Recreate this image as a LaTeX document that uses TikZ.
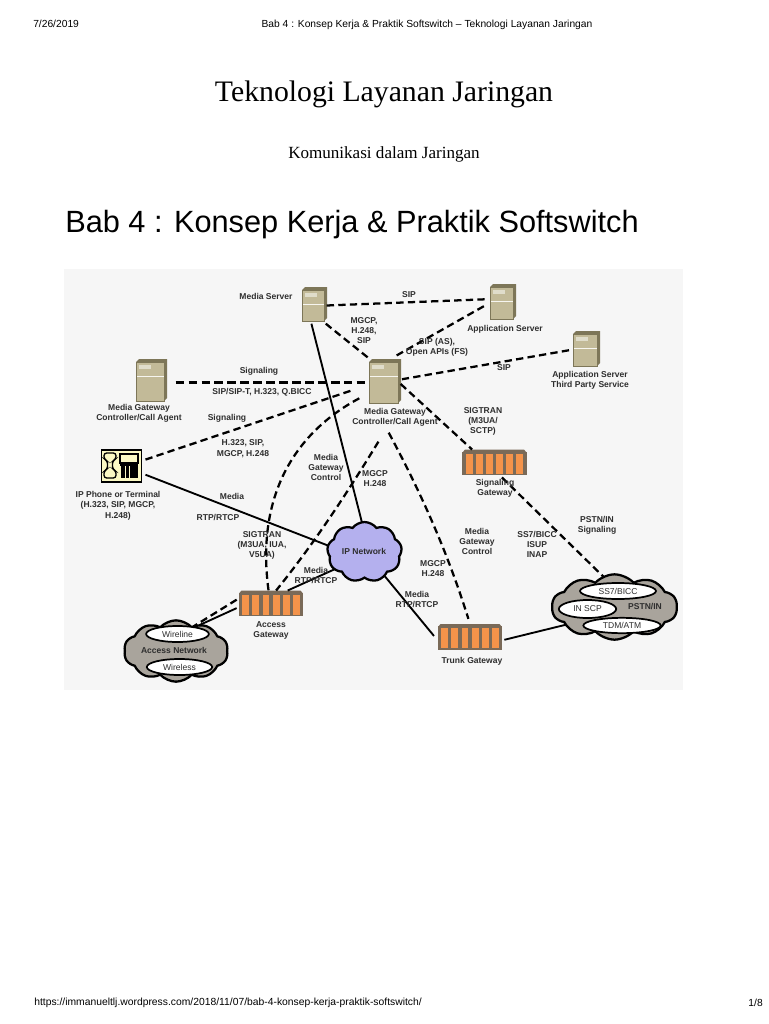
\documentclass[tikz,border=0pt]{standalone}
\usepackage{fontspec}
\setmainfont{Liberation Sans}
\newfontfamily\titlefont{Liberation Serif}
\usepackage{xcolor}
\usetikzlibrary{arrows.meta,positioning,calc,shapes.geometric,shapes.symbols}
\definecolor{panelbg}{HTML}{F6F6F6}
\definecolor{srvfront}{HTML}{C2BA98}
\definecolor{srvside}{HTML}{7D7658}
\definecolor{gwframe}{HTML}{7A6A58}
\definecolor{gworange}{HTML}{F4934A}
\definecolor{ipcloud}{HTML}{B4B0EE}
\definecolor{netcloud}{HTML}{A9A49C}
\definecolor{phonebg}{HTML}{FBF9C4}
\definecolor{labelink}{HTML}{2E2E2E}

% server box: name, x, y, width, height
\newcommand{\serverbox}[5]{
  \fill[srvside] (#2-#4/2,#3-#5/2) -- ++(3,-3) -- ++(#4,0) -- ++(0,#5) -- ++(-3,3) -- cycle;
  \node[server, minimum width=#4*0.75pt, minimum height=#5*0.75pt] (#1) at (#2,#3) {};
}
% gateway box: name, x, y
\newcommand{\gatewaybox}[3]{
  \fill[gwframe] (#2-31.7,#3-11.3) -- ++(2,-2.5) -- ++(59.4,0) -- ++(2,2.5) -- cycle;
  \node[gateway] (#1) at (#2,#3) {};
}

\begin{document}
\begin{tikzpicture}[
  x=0.75pt, y=-0.75pt,
  server/.style={draw=srvside, line width=0.6pt, fill=srvfront, inner sep=0pt, outer sep=2pt,
    path picture={
      \draw[white!85!srvfront, line width=0.5pt] ([yshift=-11pt]path picture bounding box.north west) -- ([yshift=-11pt]path picture bounding box.north east);
      \fill[white!50!srvfront] ([xshift=2pt,yshift=-2pt]path picture bounding box.north west) rectangle ++(9pt,-3pt);
    }},
  gateway/.style={draw=gwframe, line width=0.9pt, fill=gwframe, inner sep=0pt, outer sep=2pt,
    minimum width=47.5pt, minimum height=17pt,
    path picture={
      \foreach \i in {0,...,5}
        \fill[gworange] ([xshift=2.2pt+\i*7.6pt,yshift=1pt]path picture bounding box.south west) rectangle ++(5.2pt,15pt);
    }},
  sigline/.style={dash pattern=on 5.5pt off 3.2pt, line width=1.7pt, black},
  trunkline/.style={dash pattern=on 6.5pt off 3.2pt, line width=2.2pt, black},
  medialine/.style={line width=1.4pt, black},
  lbl/.style={font=\fontsize{6.4}{7.6}\selectfont\bfseries, text=labelink, align=center, inner sep=0pt, yshift=-0.5pt},
  cloudnet/.style={cloud, cloud ignores aspect, draw=black, line width=1.7pt, inner sep=0pt, outer sep=0pt},
  oval/.style={ellipse, draw=black, line width=1.3pt, fill=white, inner sep=0pt, font=\fontsize{6.4}{7.6}\selectfont, text=labelink},
  page/.style={inner sep=0pt, text=black}
]
\useasboundingbox (0,0) rectangle (768,1024);
\fill[white] (0,0) rectangle (768,1024);

% page text
\node[page, font=\fontsize{7.7}{9}\selectfont, anchor=west] (date) at (33,24) {7/26/2019};
\node[page, font=\fontsize{7.7}{9}\selectfont] (head) at (427,24.5) {Bab 4 : Konsep Kerja \& Praktik Softswitch – Teknologi Layanan Jaringan};
\node[page, font=\titlefont\fontsize{22.3}{26}\selectfont] (title) at (384,94) {Teknologi Layanan Jaringan};
\node[page, font=\titlefont\fontsize{12.8}{15}\selectfont] (subtitle) at (384,154) {Komunikasi dalam Jaringan};
\node[page, font=\fontsize{23.05}{27}\selectfont, anchor=west] (bab) at (65,225) {Bab 4 : Konsep Kerja \& Praktik Softswitch};
\node[page, font=\fontsize{7.75}{9}\selectfont, anchor=west] (url) at (34,1003) {https://immanueltlj.wordpress.com/2018/11/07/bab-4-konsep-kerja-praktik-softswitch/};
\node[page, font=\fontsize{7.7}{9}\selectfont, anchor=east] (pageno) at (763,1003) {1/8};

\fill[panelbg] (64,269) rectangle (683,690);

% clouds
\node[cloudnet, cloud puffs=9, cloud puff arc=105, fill=ipcloud, minimum width=56pt, minimum height=45pt] (ipnet) at (364.5,552) {};
\node[cloudnet, cloud puffs=10, cloud puff arc=95, fill=netcloud, minimum width=78pt, minimum height=46pt] (accessnet) at (176,651) {};
\node[cloudnet, cloud puffs=10, cloud puff arc=95, fill=netcloud, minimum width=94pt, minimum height=49pt] (pstn) at (614.5,607) {};
\node[oval, minimum width=47pt, minimum height=12pt] (wireline) at (177.5,634) {Wireline};
\node[oval, minimum width=49pt, minimum height=12pt] (wireless) at (179.5,667) {Wireless};
\node[oval, minimum width=57pt, minimum height=12pt] (ss7) at (618,591) {SS7/BICC};
\node[oval, minimum width=43pt, minimum height=13.5pt] (inscp) at (587.5,609) {IN SCP};
\node[oval, minimum width=58pt, minimum height=11.5pt] (tdm) at (622,625.5) {TDM/ATM};

% servers
\serverbox{mediaserver}{313}{305.5}{22}{31}
\serverbox{mgcleft}{150}{381.5}{28}{39}
\serverbox{mgc}{383.5}{382.5}{29}{41}
\serverbox{appserver}{501.5}{303}{23}{32}
\serverbox{appthird}{585}{350}{24}{32}

% gateways
\gatewaybox{siggw}{494.5}{463.5}
\gatewaybox{accessgw}{271}{604.5}
\gatewaybox{trunkgw}{470}{638}

% phone
\node[draw=black, line width=1.4pt, fill=phonebg, minimum width=30pt, minimum height=23.5pt, inner sep=0pt, outer sep=3pt] (phone) at (121.5,466) {};
\draw[black, line width=1pt, rounded corners=2pt, fill=phonebg] (104,453) -- (116,453) -- (116,459) -- (112.5,461) -- (112.5,469) -- (116,471) -- (116,478) -- (104,478) -- (104,471) -- (107.5,469) -- (107.5,461) -- (104,459) -- cycle;
\draw[black, line width=0.9pt] (120,454) rectangle (138,463);
\foreach \kx in {123,127.5,132,136}
  \fill[black] (\kx-1.6,463) rectangle (\kx+1.6,478);
\fill[black] (120,463) rectangle (138,466);

% signalling
\draw[trunkline] (mgcleft.east) ++(9,1) -- (mgc.west);
\draw[sigline] (mediaserver.east) -- (appserver.165);
\draw[sigline] (mediaserver.-55) -- (mgc.120);
\draw[sigline, shorten <=3pt, shorten >=3pt] (appserver.185) -- (mgc.75);
\draw[sigline, shorten <=1pt, shorten >=1pt] (appthird.west) -- (mgc.10);
\draw[sigline] (mgc.-5) -- (siggw.148);
\draw[sigline] (siggw.-62) -- (pstn.110);
\draw[sigline, shorten >=12pt] (phone.15) -- (mgc.190);
\draw[sigline, shorten <=6pt] (mgc.215) .. controls (300,430) and (255,490) .. (accessgw.100);
\draw[sigline] (mgc.-100) ++(-1,36) .. controls (352,485) and (317,540) .. (accessgw.70);
\draw[sigline, shorten >=4pt] (mgc.-75) ++(-1,27) .. controls (425,500) and (450,560) .. (trunkgw.90);
\draw[sigline] (accessgw.172) -- (accessnet.55);

% media
\draw[medialine] (mediaserver.-95) -- (ipnet.95);
\draw[medialine] (phone.-20) -- (ipnet.170);
\draw[medialine] (ipnet.-150) -- (accessgw.40);
\draw[medialine, shorten >=2pt] (ipnet.-50) -- (trunkgw.180);
\draw[medialine] (trunkgw.-3) -- (pstn.200);
\draw[medialine] (accessgw.186) -- (accessnet.48);

% labels
\node[lbl] (lmediaserver) at (266,296) {Media Server};
\node[lbl] (lmgcpsip) at (364,330) {MGCP,\\H.248,\\SIP};
\node[lbl] (lsiptop) at (409,294) {SIP};
\node[lbl] (lappserver) at (505,329) {Application Server};
\node[lbl] (lopenapi) at (437,347) {SIP (AS),\\Open APIs (FS)};
\node[lbl] (lsipthird) at (504,367) {SIP};
\node[lbl] (lappthird) at (590,380) {Application Server\\Third Party Service};
\node[lbl] (lsignal) at (259,371) {Signaling};
\node[lbl] (lsipt) at (262,392) {SIP/SIP-T, H.323, Q.BICC};
\node[lbl] (lmgcleft) at (139,413) {Media Gateway\\Controller/Call Agent};
\node[lbl] (lsignaltwo) at (227,418) {Signaling};
\node[lbl] (lhsip) at (243,448) {H.323, SIP,\\MGCP, H.248};
\node[lbl] (lmgc) at (395,417) {Media Gateway\\Controller/Call Agent};
\node[lbl] (lsigtran) at (483,421) {SIGTRAN\\(M3UA/\\SCTP)};
\node[lbl] (lmgcontrol) at (326,467) {Media\\Gateway\\Control};
\node[lbl] (lmgcph) at (375,478) {MGCP\\H.248};
\node[lbl] (lsiggw) at (495,488) {Signaling\\Gateway};
\node[lbl] (lphone) at (118,505) {IP Phone or Terminal\\(H.323, SIP, MGCP,\\H.248)};
\node[lbl] (lmedia) at (232,496) {Media};
\node[lbl] (lrtp) at (218,517) {RTP/RTCP};
\node[lbl] (lsigaccess) at (262,545) {SIGTRAN\\(M3UA, IUA,\\V5UA)};
\node[lbl] (lmediaaccess) at (316,575) {Media\\RTP/RTCP};
\node[lbl] (lipnet) at (364,551) {IP Network};
\node[lbl] (laccessgw) at (271,630) {Access\\Gateway};
\node[lbl] (laccessnet) at (174,650) {Access Network};
\node[lbl] (lmediatrunk) at (417,599) {Media\\RTP/RTCP};
\node[lbl] (lmgcptrunk) at (433,568) {MGCP\\H.248};
\node[lbl] (lmgctrunk) at (477,541) {Media\\Gateway\\Control};
\node[lbl] (lss7) at (537,544) {SS7/BICC\\ISUP\\INAP};
\node[lbl] (lpstnsig) at (597,525) {PSTN/IN\\Signaling};
\node[lbl] (lpstn) at (645,606) {PSTN/IN};
\node[lbl] (ltrunkgw) at (472,661) {Trunk Gateway};
\end{tikzpicture}
\end{document}
